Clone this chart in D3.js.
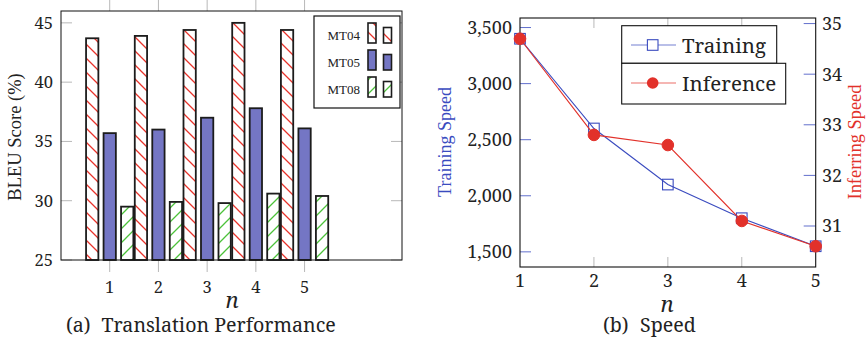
<!DOCTYPE html>
<html><head><meta charset="utf-8">
<script src="https://cdn.jsdelivr.net/npm/d3@7"></script>
</head>
<body style="margin:0;background:#fff">
<svg id="c" width="867" height="341"></svg>
<script>
// ---- data ----
const nValues = [1, 2, 3, 4, 5];
const seriesNames = ["MT04", "MT05", "MT08"];
const mt04 = [43.7, 43.9, 44.4, 45.0, 44.4];
const mt05 = [35.7, 36.0, 37.0, 37.8, 36.1];
const mt08 = [29.5, 29.9, 29.8, 30.6, 30.4];
const bleuTicks = [25, 30, 35, 40, 45];
const trainingSpeed = [3400, 2600, 2100, 1800, 1550];
const inferenceSpeed = [34.7, 32.8, 32.6, 31.1, 30.6];
const trainTicks = [1500, 2000, 2500, 3000, 3500];
const inferTicks = [31, 32, 33, 34, 35];
const legendB = ["Training", "Inference"];

const svg = d3.select("#c");
const defs = svg.append("defs");
function hatch(id, color, dir) {
  const p = defs.append("pattern").attr("id", id).attr("patternUnits", "userSpaceOnUse")
    .attr("width", 14).attr("height", 14);
  const d = dir === "nw"
    ? "M0,0 L14,14 M-2,12 L2,16 M12,-2 L16,2"
    : "M0,14 L14,0 M-2,2 L2,-2 M12,16 L16,12";
  p.append("path").attr("d", d).attr("stroke", color).attr("stroke-width", 1.3);
}
hatch("hRed", "#e8332b", "nw");
hatch("hGreen", "#4cc23a", "ne");

const GRID = "#b8b8b8";
const FN = "Noto Serif", FL = "Liberation Serif";
function txt(g, x, y, size, s, anchor, fam, italic) {
  const t = g.append("text").attr("x", x).attr("y", y)
    .attr("font-family", fam).attr("font-size", size).attr("fill", "#222")
    .attr("text-anchor", anchor || "start").text(s);
  if (italic) t.attr("font-style", "italic");
  return t;
}
// ================= LEFT CHART =================
const L = {x0: 61, x1: 402, y0: 11, y1: 260};
const xa = d3.scaleLinear().domain([0, 7]).range([L.x0, L.x1]);
const ya = d3.scaleLinear().domain([25, 46]).range([L.y1, L.y0]);
const gA = svg.append("g");

gA.append("g").selectAll("line").data(nValues).join("line")
  .attr("x1", d => xa(d)).attr("x2", d => xa(d)).attr("y1", L.y1).attr("y2", L.y1 + 12)
  .attr("stroke", GRID).attr("stroke-width", 1);
gA.append("g").selectAll("line").data(nValues).join("line")
  .attr("x1", d => xa(d)).attr("x2", d => xa(d)).attr("y1", 0).attr("y2", L.y0)
  .attr("stroke", GRID).attr("stroke-width", 1);
gA.append("g").selectAll("line").data(bleuTicks).join("line")
  .attr("x1", L.x0).attr("x2", L.x0 + 11).attr("y1", d => ya(d)).attr("y2", d => ya(d))
  .attr("stroke", GRID);
gA.append("g").selectAll("line").data(bleuTicks).join("line")
  .attr("x1", L.x1 - 11).attr("x2", L.x1).attr("y1", d => ya(d)).attr("y2", d => ya(d))
  .attr("stroke", GRID);

const series = [
  {name: "MT04", vals: mt04, fill: "url(#hRed)", off: -17.5},
  {name: "MT05", vals: mt05, fill: "#7476c4", off: 0},
  {name: "MT08", vals: mt08, fill: "url(#hGreen)", off: 17.5}
];
const bw = 12.3;
series.forEach(s => {
  gA.append("g").selectAll("rect").data(nValues).join("rect")
    .attr("x", (d, i) => xa(d) + s.off - bw / 2)
    .attr("y", (d, i) => ya(s.vals[i]))
    .attr("width", bw)
    .attr("height", (d, i) => ya(25) - ya(s.vals[i]))
    .attr("fill", s.fill).attr("stroke", "#1c1c1c").attr("stroke-width", 1.8);
});

gA.append("rect").attr("x", L.x0).attr("y", L.y0).attr("width", L.x1 - L.x0).attr("height", L.y1 - L.y0)
  .attr("fill", "none").attr("stroke", "#111").attr("stroke-width", 1);

bleuTicks.forEach(d => txt(gA, 53, ya(d) + 6, 16.5, String(d), "end", FN));
nValues.forEach(d => txt(gA, xa(d), 293, 16.5, String(d), "middle", FN));
txt(gA, 232, 308, 22, "n", "middle", FN, true);
txt(gA, 0, 0, 18.5, "BLEU Score (%)", "middle", FL).attr("x", null).attr("y", null)
  .attr("transform", "translate(21,137) rotate(-90)");
txt(gA, 66, 332, 19.6, "(a)", "start", FN);
txt(gA, 101.5, 332, 19.6, "Translation Performance", "start", FN);

const lg = gA.append("g");
lg.append("rect").attr("x", 314).attr("y", 16).attr("width", 86).attr("height", 92)
  .attr("fill", "#fff").attr("stroke", "#111").attr("stroke-width", 1.2);
series.forEach((s, i) => {
  const by = 43 + i * 27;
  txt(lg, 360, by - 3, 13, seriesNames[i], "end", FL);
  lg.append("rect").attr("x", 368).attr("y", by - 20).attr("width", 8).attr("height", 20)
    .attr("fill", s.fill).attr("stroke", "#1c1c1c").attr("stroke-width", 1.6);
  lg.append("rect").attr("x", 383.5).attr("y", by - 15.5).attr("width", 8).attr("height", 15.5)
    .attr("fill", s.fill).attr("stroke", "#1c1c1c").attr("stroke-width", 1.6);
});

// ================= RIGHT CHART =================
const R = {x0: 520, x1: 815.7, y0: 18, y1: 267};
const BLUE = "#3a4bbf", RED = "#e2312a";
const xb = d3.scaleLinear().domain([1, 5]).range([R.x0, R.x1]);
const yT = d3.scaleLinear().domain([1365, 3585]).range([R.y1, R.y0]);
const yI = d3.scaleLinear().domain([30.19, 35.11]).range([R.y1, R.y0]);
const gB = svg.append("g");

gB.append("g").selectAll("line").data(nValues.slice(1, 4)).join("line")
  .attr("x1", d => xb(d)).attr("x2", d => xb(d)).attr("y1", R.y0).attr("y2", R.y0 + 10)
  .attr("stroke", GRID);
gB.append("g").selectAll("line").data(nValues.slice(1, 4)).join("line")
  .attr("x1", d => xb(d)).attr("x2", d => xb(d)).attr("y1", R.y1 - 10).attr("y2", R.y1)
  .attr("stroke", GRID);
gB.append("g").selectAll("line").data(trainTicks).join("line")
  .attr("x1", R.x0).attr("x2", R.x0 + 11).attr("y1", d => yT(d)).attr("y2", d => yT(d))
  .attr("stroke", BLUE).attr("stroke-opacity", 0.8);
gB.append("g").selectAll("line").data(inferTicks).join("line")
  .attr("x1", R.x1 - 12).attr("x2", R.x1).attr("y1", d => yI(d)).attr("y2", d => yI(d))
  .attr("stroke", BLUE).attr("stroke-opacity", 0.8);

gB.append("rect").attr("x", R.x0).attr("y", R.y0).attr("width", R.x1 - R.x0).attr("height", R.y1 - R.y0)
  .attr("fill", "none").attr("stroke", "#111").attr("stroke-width", 1.1);

const lineT = d3.line().x((d, i) => xb(nValues[i])).y(d => yT(d));
const lineI = d3.line().x((d, i) => xb(nValues[i])).y(d => yI(d));
gB.append("path").attr("d", lineT(trainingSpeed)).attr("fill", "none").attr("stroke", BLUE).attr("stroke-width", 1.1);
gB.append("g").selectAll("rect").data(trainingSpeed).join("rect")
  .attr("x", (d, i) => xb(nValues[i]) - 5.3).attr("y", d => yT(d) - 5.3)
  .attr("width", 10.6).attr("height", 10.6).attr("fill", "none").attr("stroke", BLUE).attr("stroke-width", 1.1);
gB.append("path").attr("d", lineI(inferenceSpeed)).attr("fill", "none").attr("stroke", RED).attr("stroke-width", 1.1);
gB.append("g").selectAll("circle").data(inferenceSpeed).join("circle")
  .attr("cx", (d, i) => xb(nValues[i])).attr("cy", d => yI(d)).attr("r", 5.8)
  .attr("fill", RED).attr("stroke", RED);

trainTicks.forEach(d => txt(gB, 512, yT(d) + 6.4, 18, d3.format(",")(d), "end", FN));
inferTicks.forEach(d => txt(gB, 822, yI(d) + 6.4, 18, String(d), "start", FN));
nValues.forEach(d => txt(gB, xb(d), 287, 18, String(d), "middle", FN));
txt(gB, 667, 312, 22, "n", "middle", FN, true);
txt(gB, 0, 0, 18, "Training Speed", "middle", FL).attr("x", null).attr("y", null)
  .attr("transform", "translate(451,142) rotate(-90)").attr("fill", BLUE);
txt(gB, 0, 0, 18.4, "Inferring Speed", "middle", FL).attr("x", null).attr("y", null)
  .attr("transform", "translate(861,142) rotate(-90)").attr("fill", RED);
txt(gB, 603, 332, 19.6, "(b)", "start", FN);
txt(gB, 640, 332, 19.6, "Speed", "start", FN);

const lb = gB.append("g");
lb.append("rect").attr("x", 621.7).attr("y", 25.7).attr("width", 155).attr("height", 37.6)
  .attr("fill", "#fff").attr("stroke", "#111").attr("stroke-width", 1.1);
lb.append("rect").attr("x", 621.7).attr("y", 63.3).attr("width", 164).attr("height", 40.7)
  .attr("fill", "#fff").attr("stroke", "#111").attr("stroke-width", 1.1);
[0, 1].forEach(i => {
  const cy = i === 0 ? 45 : 83;
  const col = i === 0 ? BLUE : RED;
  lb.append("line").attr("x1", 631).attr("x2", 676).attr("y1", cy).attr("y2", cy)
    .attr("stroke", col).attr("stroke-opacity", 0.7).attr("stroke-width", 1.1);
  if (i === 0) {
    lb.append("rect").attr("x", 652.7 - 5.3).attr("y", cy - 5.3).attr("width", 10.6).attr("height", 10.6)
      .attr("fill", "#fff").attr("stroke", col).attr("stroke-width", 1.1);
  } else {
    lb.append("circle").attr("cx", 652.7).attr("cy", cy).attr("r", 5.8).attr("fill", col);
  }
  txt(lb, 682, i === 0 ? 53 : 90.5, 20.5, legendB[i], "start", FN);
});
</script>
</body></html>
